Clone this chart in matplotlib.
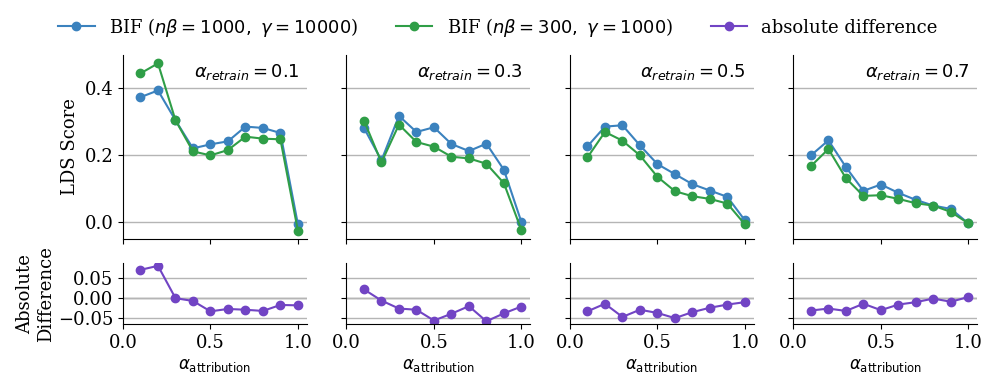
import matplotlib
matplotlib.use("Agg")
import matplotlib.pyplot as plt
import numpy as np

plt.rcParams['font.family'] = 'DejaVu Serif'
plt.rcParams['mathtext.fontset'] = 'dejavusans'

# valores
alpha_attr = [0.1, 0.2, 0.3, 0.4, 0.5, 0.6, 0.7, 0.8, 0.9, 1.0]
alpha_retrain = [0.1, 0.3, 0.5, 0.7]

bif_a = [
    [0.374, 0.394, 0.305, 0.221, 0.233, 0.242, 0.286, 0.282, 0.267, -0.006],
    [0.282, 0.185, 0.318, 0.270, 0.284, 0.234, 0.213, 0.235, 0.157, 0.001],
    [0.227, 0.286, 0.290, 0.230, 0.174, 0.144, 0.114, 0.095, 0.076, 0.006],
    [0.200, 0.245, 0.165, 0.094, 0.113, 0.088, 0.067, 0.050, 0.040, -0.003],
]
bif_b = [
    [0.445, 0.475, 0.305, 0.212, 0.200, 0.216, 0.256, 0.250, 0.248, -0.025],
    [0.304, 0.179, 0.292, 0.240, 0.226, 0.196, 0.191, 0.175, 0.117, -0.023],
    [0.194, 0.270, 0.244, 0.200, 0.136, 0.093, 0.078, 0.070, 0.056, -0.006],
    [0.168, 0.219, 0.132, 0.079, 0.081, 0.070, 0.057, 0.050, 0.031, -0.003],
]
diff = [
    [0.071, 0.081, 0.000, -0.007, -0.033, -0.027, -0.029, -0.032, -0.017, -0.018],
    [0.022, -0.006, -0.026, -0.029, -0.056, -0.039, -0.020, -0.058, -0.038, -0.021],
    [-0.033, -0.014, -0.047, -0.029, -0.037, -0.050, -0.035, -0.024, -0.016, -0.010],
    [-0.031, -0.026, -0.032, -0.014, -0.030, -0.016, -0.010, -0.001, -0.009, 0.003],
]

cor_a = '#3b82be'
cor_b = '#2f9e47'
cor_d = '#7144c4'

fig, axs = plt.subplots(2, 4, figsize=(9.96, 3.9), dpi=100, sharex=True, sharey='row',
                        gridspec_kw={'height_ratios': [184, 61]})
fig.subplots_adjust(left=0.1235, right=0.981, top=0.859, bottom=0.169, wspace=0.217, hspace=0.196)

for i, ar in enumerate(alpha_retrain):
    ax = axs[0, i]
    ax.plot(alpha_attr, bif_a[i], color=cor_a, marker='o', ms=6, lw=1.5,
            label=r'BIF ($n\beta = 1000,\ \gamma = 10000$)')
    ax.plot(alpha_attr, bif_b[i], color=cor_b, marker='o', ms=6, lw=1.5,
            label=r'BIF ($n\beta = 300,\ \gamma = 1000$)')
    ax.text(0.96, 0.96, r'$\alpha_{retrain} = %s$' % ar, transform=ax.transAxes,
            ha='right', va='top', fontsize=13)
    ax.set_yticks([0.0, 0.2, 0.4])
    ax.grid(axis='y', color='#b5b5b5', lw=1)
    ax.set_axisbelow(True)

    bx = axs[1, i]
    bx.plot(alpha_attr, diff[i], color=cor_d, marker='o', ms=6, lw=1.5, label='absolute difference')
    bx.axhline(0, color='#888888', lw=1, zorder=0)
    bx.set_yticks([-0.05, 0.0, 0.05])
    bx.grid(axis='y', color='#b5b5b5', lw=1)
    bx.set_axisbelow(True)
    bx.set_xlabel(r'$\alpha_{\mathrm{attribution}}$', fontsize=12)

    for a in (ax, bx):
        a.spines['top'].set_visible(False)
        a.spines['right'].set_visible(False)
        a.tick_params(labelsize=13)

axs[1, 0].set_xlim(0, 1.05)
axs[1, 0].set_xticks([0.0, 0.5, 1.0])
axs[0, 0].set_ylabel('LDS Score', fontsize=13)
axs[1, 0].set_ylabel('Absolute\nDifference', fontsize=13, labelpad=2)

handles = axs[0, 0].get_legend_handles_labels()[0] + axs[1, 0].get_legend_handles_labels()[0]
labels = axs[0, 0].get_legend_handles_labels()[1] + axs[1, 0].get_legend_handles_labels()[1]
fig.legend(handles, labels, loc='center', bbox_to_anchor=(0.5, 0.93), ncol=3, frameon=False,
           fontsize=13, columnspacing=2.1)

plt.savefig('out.png', dpi=100)
